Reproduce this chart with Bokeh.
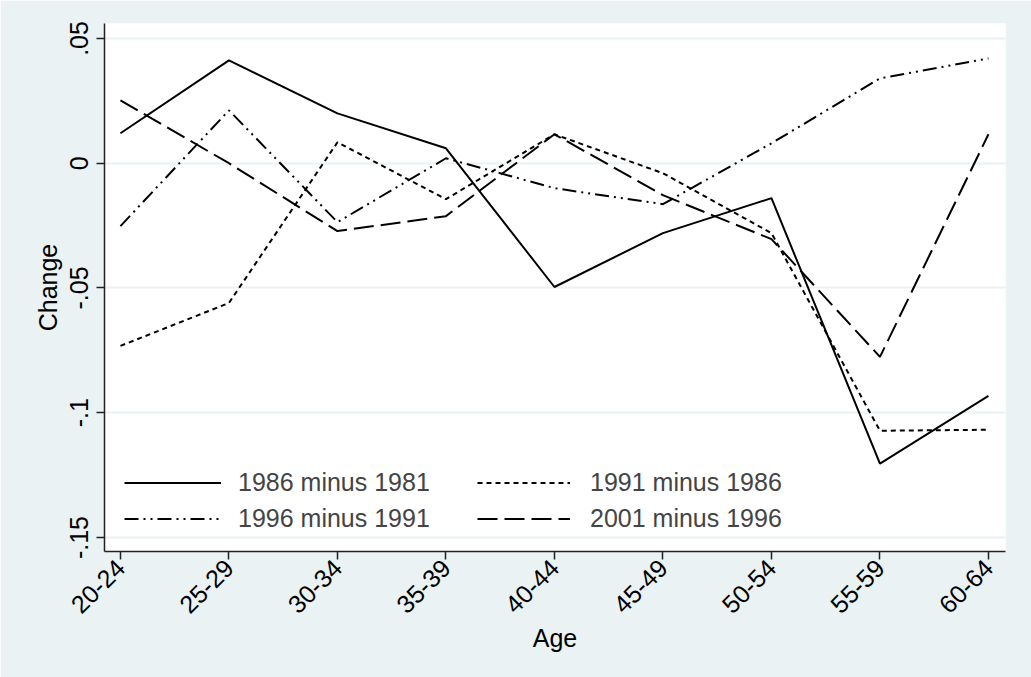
from bokeh.plotting import figure
from bokeh.models import FixedTicker, Legend, LegendItem, Range1d
from bokeh.embed import file_html
from bokeh.resources import INLINE
import math

ages = ["20-24", "25-29", "30-34", "35-39", "40-44", "45-49", "50-54", "55-59", "60-64"]
d_1986_1981 = [0.012, 0.0412, 0.020, 0.006, -0.0496, -0.028, -0.014, -0.1204, -0.0932]
d_1991_1986 = [-0.0732, -0.056, 0.0084, -0.0144, 0.0116, -0.004, -0.028, -0.1072, -0.1068]
d_1996_1991 = [-0.0252, 0.0212, -0.0236, 0.002, -0.010, -0.0164, 0.008, 0.034, 0.042]
d_2001_1996 = [0.0252, 0.0, -0.0272, -0.0212, 0.0116, -0.0128, -0.0304, -0.0776, 0.0116]
labels = ["1986 minus 1981", "1991 minus 1986", "1996 minus 1991", "2001 minus 1996"]
y_ticks = [-0.15, -0.1, -0.05, 0, 0.05]
y_tick_labels = ["-.15", "-.1", "-.05", "0", ".05"]

FONT = "Liberation Sans"
FS = "25px"
BG = "#EAF2F3"

xs = list(range(len(ages)))

p = figure(width=1031, height=677, output_backend="svg", toolbar_location=None,
           x_range=Range1d(-0.147, 8.157), y_range=Range1d(-0.1556, 0.056),
           min_border_left=104, min_border_right=26, min_border_top=23, min_border_bottom=126,
           background_fill_color="white", border_fill_color=BG, outline_line_color=None)

styles = ["solid", "5 4", "14 5 2 5 2 5", "20 7"]
series = [d_1986_1981, d_1991_1986, d_1996_1991, d_2001_1996]
rs = []
for s, dash in zip(series, styles):
    r = p.line(xs, s, line_color="black", line_width=2, line_dash=dash)
    rs.append(r)

# axes
p.xaxis.ticker = FixedTicker(ticks=xs)
p.xaxis.major_label_overrides = {i: a for i, a in enumerate(ages)}
p.xaxis.major_label_orientation = math.pi / 4
p.yaxis.ticker = FixedTicker(ticks=y_ticks)
p.yaxis.major_label_overrides = {t: l for t, l in zip(y_ticks, y_tick_labels)}
p.yaxis.major_label_orientation = "vertical"
p.xaxis.axis_label = "Age"
p.yaxis.axis_label = "Change"
for ax in (p.xaxis, p.yaxis):
    ax.axis_line_color = "#222222"
    ax.axis_line_width = 1.5
    ax.major_tick_line_color = "#222222"
    ax.major_tick_line_width = 1.5
    ax.major_tick_out = 8
    ax.major_tick_in = 0
    ax.minor_tick_line_color = None
    ax.major_label_text_font = FONT
    ax.major_label_text_font_size = FS
    ax.major_label_text_color = "black"
    ax.axis_label_text_font = FONT
    ax.axis_label_text_font_size = FS
    ax.axis_label_text_font_style = "normal"
    ax.axis_label_text_color = "black"
p.xaxis.major_label_standoff = 4
p.yaxis.major_label_standoff = 8
p.xaxis.axis_label_standoff = 0
p.yaxis.axis_label_standoff = 6

p.xgrid.grid_line_color = None
p.ygrid.grid_line_color = BG
p.ygrid.grid_line_width = 2


def make_legend(items, loc, gw, standoff):
    return Legend(items=items, location=loc, glyph_width=gw, glyph_height=25,
                  label_height=25, spacing=7, padding=0, margin=0, label_standoff=standoff,
                  label_text_font=FONT, label_text_font_size=FS,
                  border_line_color=None, background_fill_alpha=0)


leg1 = make_legend([LegendItem(label=labels[0], renderers=[rs[0]]),
                    LegendItem(label=labels[2], renderers=[rs[2]])], (20, 18), 97, 17)
leg2 = make_legend([LegendItem(label=labels[1], renderers=[rs[1]]),
                    LegendItem(label=labels[3], renderers=[rs[3]])], (373, 18), 93, 20)
p.add_layout(leg1)
p.add_layout(leg2)

open("out.html", "w").write(file_html(p, INLINE))
